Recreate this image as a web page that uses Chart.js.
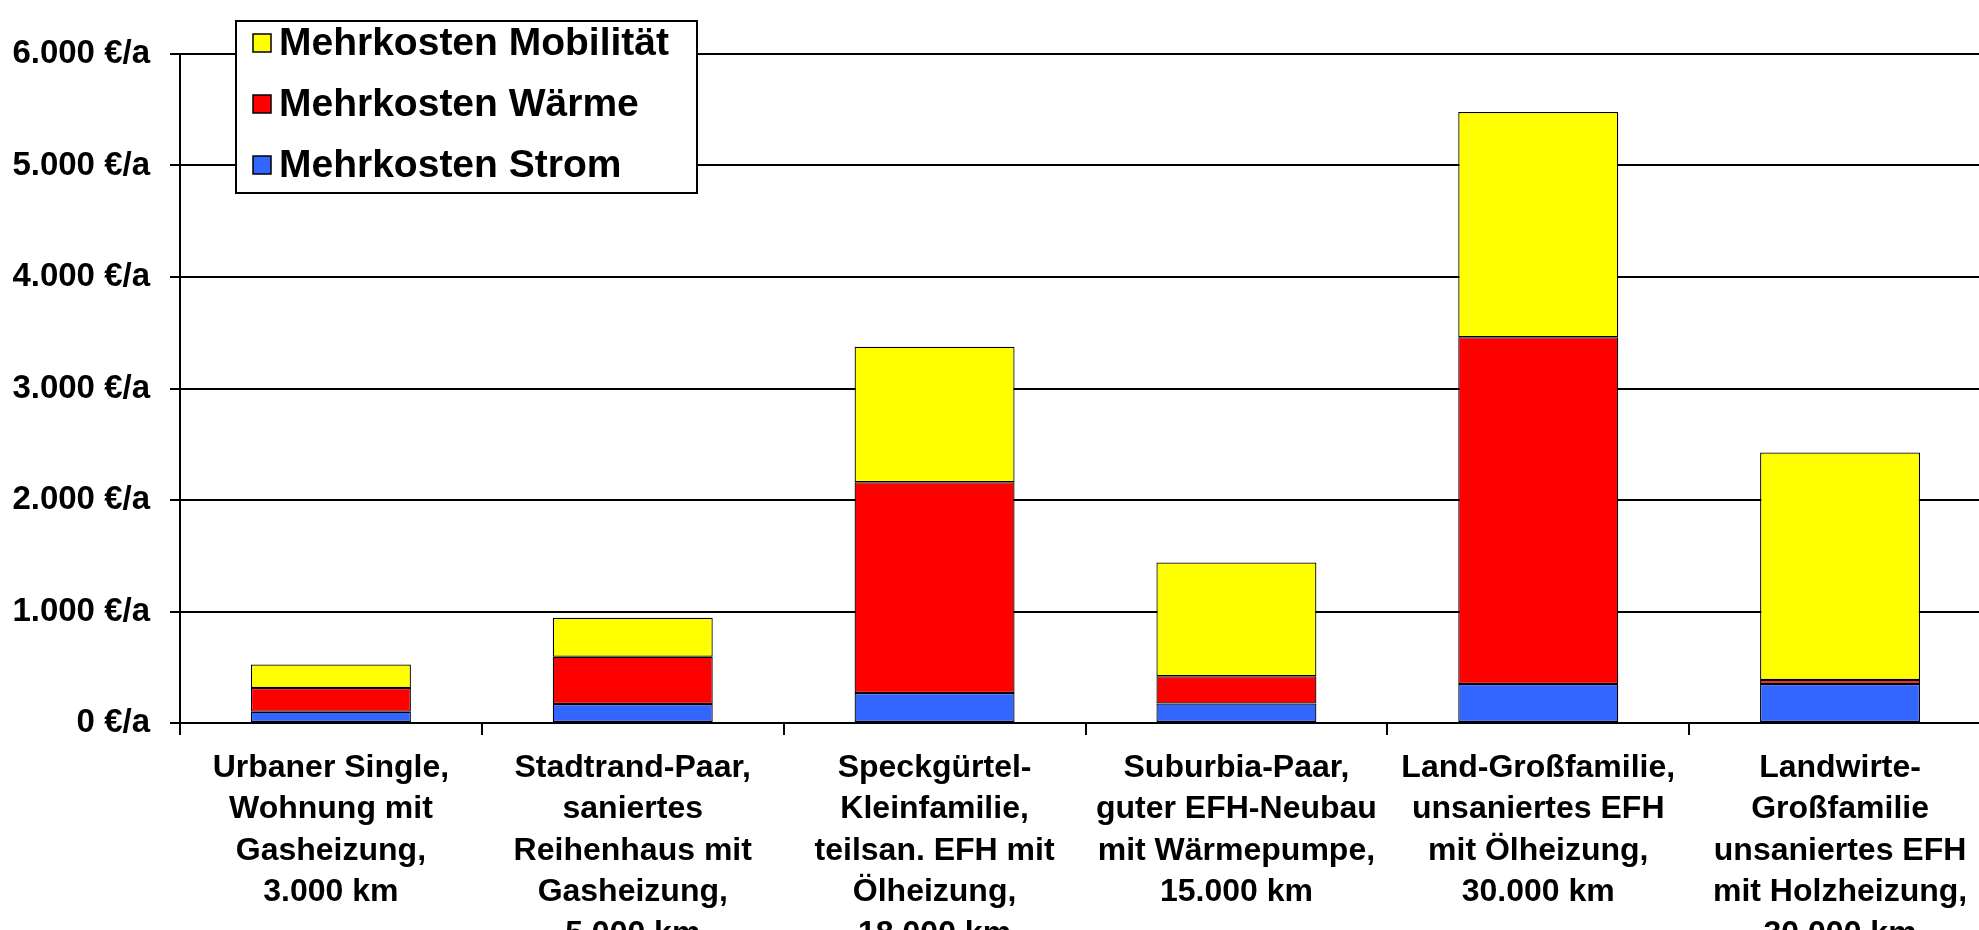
<!DOCTYPE html>
<html>
<head>
<meta charset="utf-8">
<script src="https://cdn.jsdelivr.net/npm/chart.js@4/dist/chart.umd.min.js"></script>
<style>
  html, body { margin: 0; padding: 0; overflow: hidden; background: #fff; }
  canvas { display: block; }
</style>
</head>
<body>
<canvas id="myChart" width="1991" height="930"></canvas>
<script>
// categories (x axis), one array of lines per bar
const categories = [
  ['Urbaner Single,', 'Wohnung mit', 'Gasheizung,', '3.000 km'],
  ['Stadtrand-Paar,', 'saniertes', 'Reihenhaus mit', 'Gasheizung,', '5.000 km'],
  ['Speckgürtel-', 'Kleinfamilie,', 'teilsan. EFH mit', 'Ölheizung,', '18.000 km'],
  ['Suburbia-Paar,', 'guter EFH-Neubau', 'mit Wärmepumpe,', '15.000 km'],
  ['Land-Großfamilie,', 'unsaniertes EFH', 'mit Ölheizung,', '30.000 km'],
  ['Landwirte-', 'Großfamilie', 'unsaniertes EFH', 'mit Holzheizung,', '30.000 km']
];

// series values in €/a
const strom = [100, 170, 270, 175, 350, 350];
const waerme = [215, 425, 1890, 245, 3110, 35];
const mobilitaet = [210, 350, 1215, 1020, 2020, 2040];

// y axis ticks
const yTicks = [0, 1000, 2000, 3000, 4000, 5000, 6000];

const FONT = "'Liberation Sans', Arial, sans-serif";

//formats 6000 -> "6.000 €/a"
const fmt = (v) => String(v).replace(/\B(?=(\d{3})+(?!\d))/g, '.') + ' €/a';

//legend box drawn inside the plot, top left
const boxLegend = {
  id: 'boxLegend',
  afterDraw(chart) {
    const ctx = chart.ctx;
    ctx.save();
    ctx.fillStyle = '#fff';
    ctx.fillRect(236, 21, 461, 172);
    ctx.strokeStyle = '#000';
    ctx.lineWidth = 2;
    ctx.strokeRect(236, 21, 461, 172);
    const items = chart.data.datasets.slice().reverse();
    ctx.font = 'bold 39px ' + FONT;
    ctx.textBaseline = 'middle';
    items.forEach((ds, i) => {
      const y = 43 + i * 61;
      ctx.fillStyle = ds.backgroundColor;
      ctx.fillRect(253, y - 9, 18, 18);
      ctx.lineWidth = 1.5;
      ctx.strokeRect(253, y - 9, 18, 18);
      ctx.fillStyle = '#000';
      ctx.fillText(ds.label, 279, y + 1);
    });
    ctx.restore();
  }
};

const barStyle = {
  borderColor: '#000',
  borderWidth: 1.25,
  borderSkipped: false,
  barPercentage: 0.53,
  categoryPercentage: 1.0
};

new Chart(document.getElementById('myChart').getContext('2d'), {
  type: 'bar',
  data: {
    labels: categories,
    datasets: [
      { label: 'Mehrkosten Strom', data: strom, backgroundColor: '#3366FF', ...barStyle },
      { label: 'Mehrkosten Wärme', data: waerme, backgroundColor: '#FF0000', ...barStyle },
      { label: 'Mehrkosten Mobilität', data: mobilitaet, backgroundColor: '#FFFF00', ...barStyle }
    ]
  },
  options: {
    responsive: false,
    animation: false,
    devicePixelRatio: 1,
    layout: { padding: { top: 54, right: 0, left: 0, bottom: 0 } },
    plugins: { legend: { display: false }, tooltip: { enabled: false } },
    scales: {
      x: {
        stacked: true,
        afterFit: (scale) => { scale.height = 207; },
        grid: { offset: true, drawOnChartArea: false, drawTicks: true, tickLength: 12, color: '#000', lineWidth: 2 },
        border: { color: '#000', width: 2 },
        ticks: {
          color: '#000',
          font: { family: FONT, size: 32, weight: 'bold', lineHeight: 1.3 },
          padding: 12,
          maxRotation: 0,
          autoSkip: false
        }
      },
      y: {
        stacked: true,
        min: 0,
        max: 6000,
        afterFit: (scale) => { scale.width = 180; },
        afterBuildTicks: (scale) => { scale.ticks = yTicks.map(v => ({ value: v })); },
        grid: { color: '#000', lineWidth: 2, tickLength: 10 },
        border: { color: '#000', width: 2 },
        ticks: {
          color: '#000',
          font: { family: FONT, size: 33, weight: 'bold' },
          padding: 20,
          callback: (v) => fmt(v)
        }
      }
    }
  },
  plugins: [boxLegend]
});
</script>
</body>
</html>
